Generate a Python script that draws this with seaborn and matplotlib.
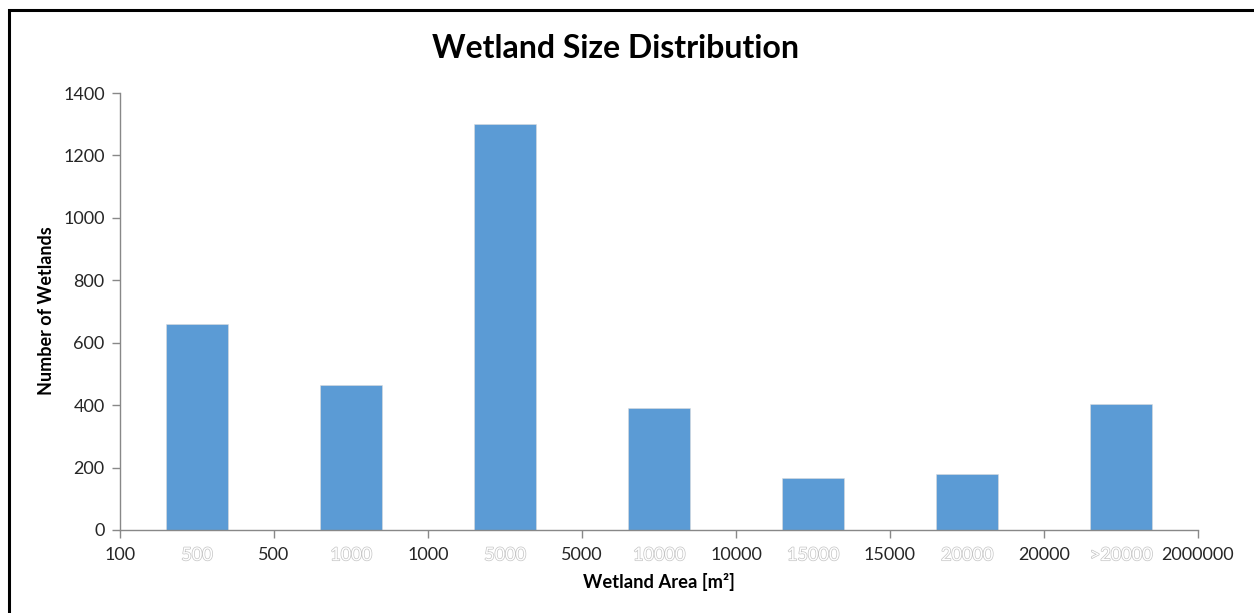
import matplotlib
matplotlib.use("Agg")
import matplotlib.pyplot as plt
import matplotlib.patheffects as pe
import matplotlib.patches as mpatches
import seaborn as sns
import pandas as pd

# Data
bin_labels = ["100", "500", "500", "1000", "1000", "5000", "5000", "10000",
              "10000", "15000", "15000", "20000", "20000", ">20000", "2000000"]
counts = [0, 660, 0, 465, 0, 1300, 0, 391, 0, 167, 0, 179, 0, 404, 0]

df = pd.DataFrame({"pos": list(range(len(bin_labels))), "count": counts})

sns.set_theme(style="white")
plt.rcParams['font.family'] = ['Lato', 'DejaVu Sans']

fig = plt.figure(figsize=(12.54, 6.13), dpi=100)
ax = fig.add_axes([120/1254, 1-530/613, (1198-120)/1254, (530-93)/613])

sns.barplot(data=df, x="pos", y="count", color="#5B9BD5", saturation=1,
            width=0.8, edgecolor="#dcdcdc", linewidth=0.4, ax=ax, native_scale=True)

ax.set_xlim(0, 14)
ax.set_ylim(0, 1400)
ax.set_yticks(range(0, 1401, 200))
ax.set_yticklabels([str(v) for v in range(0, 1401, 200)], fontsize=13, color="#262626")
ax.set_xticks(range(0, 15, 2))
ax.set_xticklabels([])
ax.tick_params(axis='x', direction='out', length=6, width=1, color="#888888", bottom=True)
ax.tick_params(axis='y', direction='out', length=6, width=1, color="#888888", left=True, pad=5)

for s in ["top", "right"]:
    ax.spines[s].set_visible(False)
for s in ["left", "bottom"]:
    ax.spines[s].set_color("#888888")
    ax.spines[s].set_linewidth(1)

# x labels: even positions dark, odd positions white with gray outline
for i, lab in enumerate(bin_labels):
    if i % 2 == 0:
        ax.text(i, -0.058, lab, transform=ax.get_xaxis_transform(), ha="center", va="center",
                fontsize=13, color="#262626")
    else:
        t = ax.text(i, -0.058, lab, transform=ax.get_xaxis_transform(), ha="center", va="center",
                    fontsize=13, color="white")
        t.set_path_effects([pe.Stroke(linewidth=1.0, foreground="#c4c4c4"), pe.Normal()])

ax.set_xlabel("")
ax.set_ylabel("")
fig.text(659/1254, 1-582/613, "Wetland Area [m²]", ha="center", va="center",
         fontsize=13.2, fontweight="bold", color="black")
fig.text(47/1254, 1-311/613, "Number of Wetlands", ha="center", va="center",
         rotation=90, fontsize=13, fontweight="bold", color="black")
fig.text(615/1254, 1-48/613, "Wetland Size Distribution", ha="center", va="center",
         fontsize=23, fontweight="bold", color="black")

# outer border
rect = mpatches.Rectangle((9/1254, -0.1), 1.2, 1 - 10/613 + 0.1, transform=fig.transFigure,
                          fill=False, edgecolor="black", linewidth=2.2)
fig.patches.append(rect)

fig.savefig("out.png", dpi=100)
